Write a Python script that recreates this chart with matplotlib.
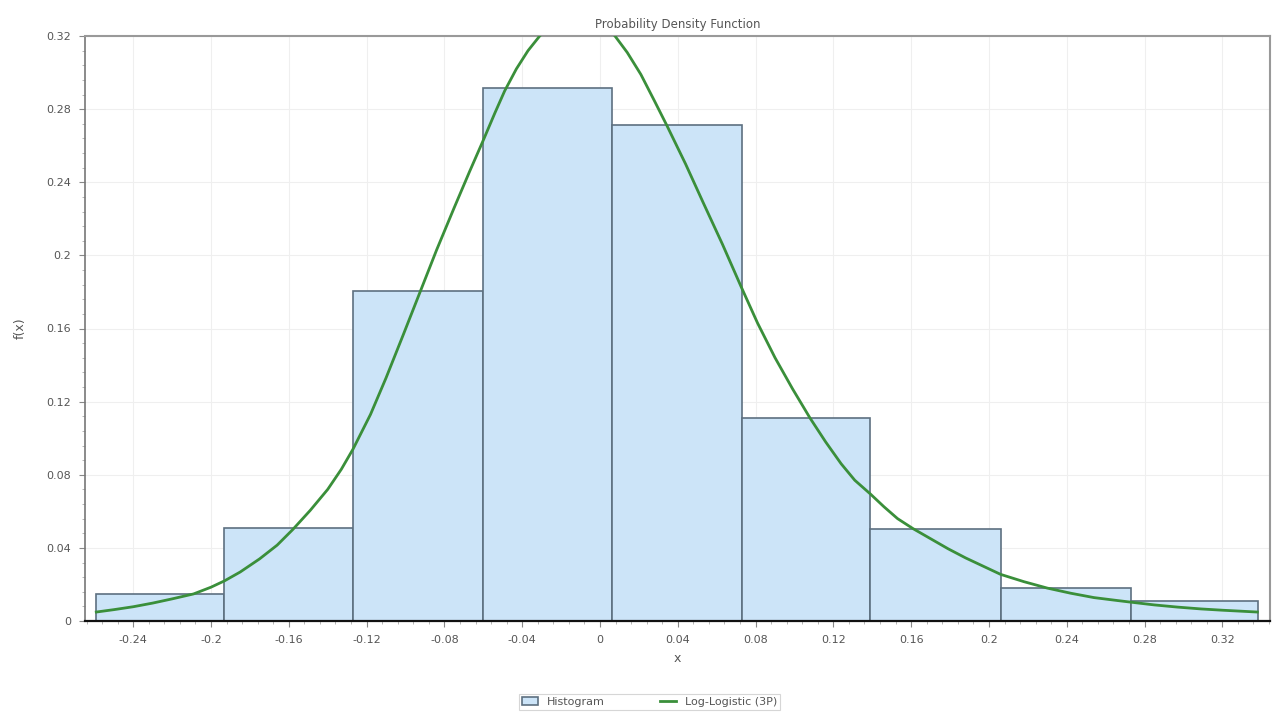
import numpy as np
import matplotlib
matplotlib.use('Agg')
import matplotlib.pyplot as plt
from matplotlib.ticker import MultipleLocator, FuncFormatter

# histogram bins (edges) and heights
bin_edges = [-0.2591, -0.1933, -0.1270, -0.0602, 0.0062, 0.0730, 0.1388, 0.2062, 0.2730, 0.3383]
bin_heights = [0.0146, 0.0507, 0.1806, 0.2916, 0.2711, 0.1109, 0.0505, 0.0178, 0.0110]

# fitted Log-Logistic (3P) curve
curve_x = [-0.259, -0.250, -0.240, -0.230, -0.220, -0.209, -0.200, -0.193, -0.185, -0.175,
           -0.166, -0.158, -0.149, -0.140, -0.133, -0.127, -0.118, -0.110, -0.101, -0.0925,
           -0.084, -0.075, -0.067, -0.060, -0.054, -0.049, -0.043, -0.037, -0.031, -0.025,
           -0.018, -0.012, -0.006, 0.000, 0.0077, 0.014, 0.021, 0.028, 0.0344, 0.044,
           0.053, 0.063, 0.0725, 0.081, 0.090, 0.099, 0.108, 0.116, 0.124, 0.131,
           0.139, 0.146, 0.153, 0.161, 0.170, 0.179, 0.188, 0.197, 0.206, 0.218,
           0.230, 0.242, 0.254, 0.266, 0.273, 0.285, 0.297, 0.309, 0.320, 0.329, 0.338]
curve_y = [0.0049, 0.0062, 0.0078, 0.0098, 0.0121, 0.0148, 0.0185, 0.0220, 0.0268, 0.0340,
           0.0415, 0.0500, 0.0605, 0.0720, 0.0830, 0.0940, 0.1130, 0.1330, 0.1570, 0.1800,
           0.2030, 0.2260, 0.2460, 0.2630, 0.2780, 0.2900, 0.3020, 0.3120, 0.3200, 0.3265,
           0.3310, 0.3330, 0.3320, 0.3290, 0.3200, 0.3110, 0.2990, 0.2845, 0.2710, 0.2500,
           0.2290, 0.2060, 0.1830, 0.1630, 0.1440, 0.1270, 0.1110, 0.0980, 0.0860, 0.0770,
           0.0695, 0.0625, 0.0560, 0.0505, 0.0450, 0.0395, 0.0345, 0.0300, 0.0255, 0.0215,
           0.0180, 0.0152, 0.0128, 0.0112, 0.0103, 0.0088, 0.0076, 0.0066, 0.0059, 0.0054, 0.0049]

gray = '#555555'

fig = plt.figure(figsize=(12.74, 7.16), dpi=100)
ax = fig.add_axes([85 / 1274, 95 / 716, 1185 / 1274, 585 / 716])

widths = np.diff(bin_edges)
bars = ax.bar(bin_edges[:-1], bin_heights, width=widths, align='edge',
              color='#cce4f8', edgecolor='#5d7080', linewidth=1.2, label='Histogram', zorder=2)
line, = ax.plot(curve_x, curve_y, color='#3a8f3a', linewidth=2.0, label='Log-Logistic (3P)',
                zorder=3, solid_joinstyle='round')

ax.set_xlim(-0.2648, 0.3445)
ax.set_ylim(0, 0.32)

ax.xaxis.set_major_locator(MultipleLocator(0.04))
ax.xaxis.set_minor_locator(MultipleLocator(0.008))
ax.yaxis.set_major_locator(MultipleLocator(0.04))
ax.yaxis.set_minor_locator(MultipleLocator(0.008))

def fmt(v, pos):
    if abs(v) < 1e-9:
        return '0'
    return ('%.2f' % v).rstrip('0')

ax.xaxis.set_major_formatter(FuncFormatter(fmt))
ax.yaxis.set_major_formatter(FuncFormatter(fmt))

ax.tick_params(axis='both', which='major', length=4, width=0.8, color='#888888',
               labelsize=8, labelcolor=gray, pad=6)
ax.tick_params(axis='both', which='minor', length=2, width=0.6, color='#aaaaaa')

ax.grid(True, which='major', color='#efefef', linewidth=0.8, zorder=0)
ax.set_axisbelow(True)

for side in ['top', 'right']:
    ax.spines[side].set_color('#999999')
    ax.spines[side].set_linewidth(1.5)
ax.spines['left'].set_color('#777777')
ax.spines['left'].set_linewidth(1.2)
ax.spines['bottom'].set_color('#111111')
ax.spines['bottom'].set_linewidth(1.6)

ax.set_title('Probability Density Function', fontsize=8.5, color=gray, pad=6)
ax.set_xlabel('x', fontsize=9, color=gray, labelpad=5)
ax.set_ylabel('f(x)', fontsize=9, color=gray, labelpad=14)

leg = fig.legend(handles=[bars, line], labels=['Histogram', 'Log-Logistic (3P)'],
                 loc='lower center', bbox_to_anchor=(0.51, 0.0), ncol=2, fontsize=8,
                 frameon=True, fancybox=False, edgecolor='#cccccc', handlelength=1.4,
                 columnspacing=5, borderpad=0.3, labelcolor=gray)
leg.get_frame().set_linewidth(0.8)

fig.savefig('out.png', dpi=100)
